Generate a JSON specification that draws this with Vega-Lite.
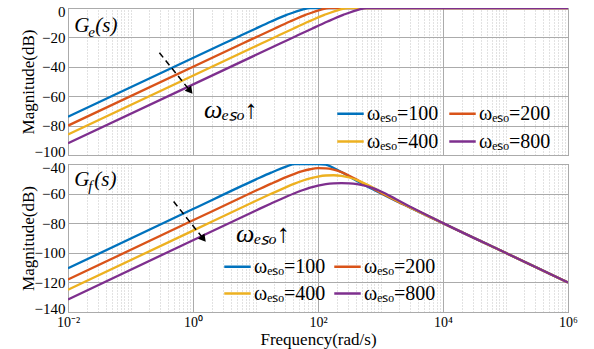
{
"$schema": "https://vega.github.io/schema/vega-lite/v6.json",
"background": "white",
"padding": {"left": 18, "top": 3, "right": 5, "bottom": 2},
"config": {
 "font": "Liberation Serif",
 "view": {"stroke": "#7a7a7a", "strokeWidth": 1},
 "axis": {"labelFont": "Liberation Serif", "titleFont": "Liberation Serif", "labelColor": "#000000", "titleColor": "#000000", "titleFontWeight": "normal", "domain": false, "ticks": false, "labelFlush": false, "gridColor": "#ababab", "gridOpacity": 1, "gridWidth": 1},
 "legend": {"labelFont": "Liberation Serif", "labelColor": "#000000"}
},
"datasets": {
 "ge": [
  {"s":"ωₑₛₒ=100","w":0.01,"db":-73.98},{"s":"ωₑₛₒ=100","w":3.1623,"db":-23.99},{"s":"ωₑₛₒ=100","w":5.6234,"db":-19.0},{"s":"ωₑₛₒ=100","w":10,"db":-14.06},{"s":"ωₑₛₒ=100","w":17.783,"db":-9.22},{"s":"ωₑₛₒ=100","w":31.623,"db":-4.7},{"s":"ωₑₛₒ=100","w":56.234,"db":-1.04},{"s":"ωₑₛₒ=100","w":74.99,"db":0.22},{"s":"ωₑₛₒ=100","w":100,"db":0.97},{"s":"ωₑₛₒ=100","w":177.83,"db":1.16},{"s":"ωₑₛₒ=100","w":316.23,"db":0.63},{"s":"ωₑₛₒ=100","w":562.34,"db":0.25},{"s":"ωₑₛₒ=100","w":1000,"db":0.08},{"s":"ωₑₛₒ=100","w":3162.3,"db":0.01},{"s":"ωₑₛₒ=100","w":1000000,"db":0},
  {"s":"ωₑₛₒ=200","w":0.01,"db":-80.0},{"s":"ωₑₛₒ=200","w":6.3246,"db":-23.99},{"s":"ωₑₛₒ=200","w":11.247,"db":-19.0},{"s":"ωₑₛₒ=200","w":20,"db":-14.06},{"s":"ωₑₛₒ=200","w":35.566,"db":-9.22},{"s":"ωₑₛₒ=200","w":63.246,"db":-4.7},{"s":"ωₑₛₒ=200","w":112.47,"db":-1.04},{"s":"ωₑₛₒ=200","w":149.97,"db":0.22},{"s":"ωₑₛₒ=200","w":200,"db":0.97},{"s":"ωₑₛₒ=200","w":355.66,"db":1.16},{"s":"ωₑₛₒ=200","w":632.46,"db":0.63},{"s":"ωₑₛₒ=200","w":1124.7,"db":0.25},{"s":"ωₑₛₒ=200","w":2000,"db":0.08},{"s":"ωₑₛₒ=200","w":6324.6,"db":0.01},{"s":"ωₑₛₒ=200","w":1000000,"db":0},
  {"s":"ωₑₛₒ=400","w":0.01,"db":-86.02},{"s":"ωₑₛₒ=400","w":12.649,"db":-23.99},{"s":"ωₑₛₒ=400","w":22.494,"db":-19.0},{"s":"ωₑₛₒ=400","w":40,"db":-14.06},{"s":"ωₑₛₒ=400","w":71.131,"db":-9.22},{"s":"ωₑₛₒ=400","w":126.49,"db":-4.7},{"s":"ωₑₛₒ=400","w":224.94,"db":-1.04},{"s":"ωₑₛₒ=400","w":299.95,"db":0.22},{"s":"ωₑₛₒ=400","w":400,"db":0.97},{"s":"ωₑₛₒ=400","w":711.31,"db":1.16},{"s":"ωₑₛₒ=400","w":1264.9,"db":0.63},{"s":"ωₑₛₒ=400","w":2249.4,"db":0.25},{"s":"ωₑₛₒ=400","w":4000,"db":0.08},{"s":"ωₑₛₒ=400","w":12649,"db":0.01},{"s":"ωₑₛₒ=400","w":1000000,"db":0},
  {"s":"ωₑₛₒ=800","w":0.01,"db":-92.04},{"s":"ωₑₛₒ=800","w":25.298,"db":-23.99},{"s":"ωₑₛₒ=800","w":44.987,"db":-19.0},{"s":"ωₑₛₒ=800","w":80,"db":-14.06},{"s":"ωₑₛₒ=800","w":142.26,"db":-9.22},{"s":"ωₑₛₒ=800","w":252.98,"db":-4.7},{"s":"ωₑₛₒ=800","w":449.87,"db":-1.04},{"s":"ωₑₛₒ=800","w":599.9,"db":0.22},{"s":"ωₑₛₒ=800","w":800,"db":0.97},{"s":"ωₑₛₒ=800","w":1422.6,"db":1.16},{"s":"ωₑₛₒ=800","w":2529.8,"db":0.63},{"s":"ωₑₛₒ=800","w":4498.7,"db":0.25},{"s":"ωₑₛₒ=800","w":8000,"db":0.08},{"s":"ωₑₛₒ=800","w":25298,"db":0.01},{"s":"ωₑₛₒ=800","w":1000000,"db":0}
 ],
 "gf": [
  {"s":"ωₑₛₒ=100","w":0.01,"db":-110.46},{"s":"ωₑₛₒ=100","w":1,"db":-70.46},{"s":"ωₑₛₒ=100","w":10,"db":-50.58},{"s":"ωₑₛₒ=100","w":17.783,"db":-45.85},{"s":"ωₑₛₒ=100","w":31.623,"db":-41.65},{"s":"ωₑₛₒ=100","w":42.17,"db":-40.0},{"s":"ωₑₛₒ=100","w":56.234,"db":-38.89},{"s":"ωₑₛₒ=100","w":74.989,"db":-38.51},{"s":"ωₑₛₒ=100","w":100,"db":-39.03},{"s":"ωₑₛₒ=100","w":133.35,"db":-40.49},{"s":"ωₑₛₒ=100","w":177.83,"db":-42.73},{"s":"ωₑₛₒ=100","w":237.14,"db":-45.48},{"s":"ωₑₛₒ=100","w":316.23,"db":-48.45},{"s":"ωₑₛₒ=100","w":421.7,"db":-51.43},{"s":"ωₑₛₒ=100","w":562.34,"db":-54.32},{"s":"ωₑₛₒ=100","w":749.89,"db":-57.09},{"s":"ωₑₛₒ=100","w":1000,"db":-59.76},{"s":"ωₑₛₒ=100","w":1778.3,"db":-64.92},{"s":"ωₑₛₒ=100","w":3162.3,"db":-69.97},{"s":"ωₑₛₒ=100","w":10000,"db":-80.0},{"s":"ωₑₛₒ=100","w":100000,"db":-100.0},{"s":"ωₑₛₒ=100","w":1000000,"db":-120.0},
  {"s":"ωₑₛₒ=200","w":0.01,"db":-118.06},{"s":"ωₑₛₒ=200","w":1,"db":-78.06},{"s":"ωₑₛₒ=200","w":10,"db":-58.12},{"s":"ωₑₛₒ=200","w":17.783,"db":-53.26},{"s":"ωₑₛₒ=200","w":31.623,"db":-48.67},{"s":"ωₑₛₒ=200","w":42.17,"db":-46.62},{"s":"ωₑₛₒ=200","w":56.234,"db":-44.86},{"s":"ωₑₛₒ=200","w":74.989,"db":-43.55},{"s":"ωₑₛₒ=200","w":100,"db":-42.84},{"s":"ωₑₛₒ=200","w":133.35,"db":-42.9},{"s":"ωₑₛₒ=200","w":177.83,"db":-43.8},{"s":"ωₑₛₒ=200","w":237.14,"db":-45.52},{"s":"ωₑₛₒ=200","w":316.23,"db":-47.9},{"s":"ωₑₛₒ=200","w":421.7,"db":-50.69},{"s":"ωₑₛₒ=200","w":562.34,"db":-53.64},{"s":"ωₑₛₒ=200","w":749.89,"db":-56.58},{"s":"ωₑₛₒ=200","w":1000,"db":-59.41},{"s":"ωₑₛₒ=200","w":1778.3,"db":-64.79},{"s":"ωₑₛₒ=200","w":3162.3,"db":-69.93},{"s":"ωₑₛₒ=200","w":10000,"db":-79.99},{"s":"ωₑₛₒ=200","w":100000,"db":-100.0},{"s":"ωₑₛₒ=200","w":1000000,"db":-120.0},
  {"s":"ωₑₛₒ=400","w":0.01,"db":-125.0},{"s":"ωₑₛₒ=400","w":1,"db":-85.0},{"s":"ωₑₛₒ=400","w":10,"db":-65.05},{"s":"ωₑₛₒ=400","w":17.783,"db":-60.15},{"s":"ωₑₛₒ=400","w":31.623,"db":-55.46},{"s":"ωₑₛₒ=400","w":42.17,"db":-53.29},{"s":"ωₑₛₒ=400","w":56.234,"db":-51.34},{"s":"ωₑₛₒ=400","w":74.989,"db":-49.71},{"s":"ωₑₛₒ=400","w":100,"db":-48.48},{"s":"ωₑₛₒ=400","w":133.35,"db":-47.76},{"s":"ωₑₛₒ=400","w":177.83,"db":-47.59},{"s":"ωₑₛₒ=400","w":237.14,"db":-48.03},{"s":"ωₑₛₒ=400","w":316.23,"db":-49.12},{"s":"ωₑₛₒ=400","w":421.7,"db":-50.86},{"s":"ωₑₛₒ=400","w":562.34,"db":-53.18},{"s":"ωₑₛₒ=400","w":749.89,"db":-55.88},{"s":"ωₑₛₒ=400","w":1000,"db":-58.76},{"s":"ωₑₛₒ=400","w":1778.3,"db":-64.45},{"s":"ωₑₛₒ=400","w":3162.3,"db":-69.8},{"s":"ωₑₛₒ=400","w":10000,"db":-79.98},{"s":"ωₑₛₒ=400","w":100000,"db":-100.0},{"s":"ωₑₛₒ=400","w":1000000,"db":-120.0},
  {"s":"ωₑₛₒ=800","w":0.01,"db":-131.51},{"s":"ωₑₛₒ=800","w":1,"db":-91.51},{"s":"ωₑₛₒ=800","w":10,"db":-71.56},{"s":"ωₑₛₒ=800","w":17.783,"db":-66.65},{"s":"ωₑₛₒ=800","w":31.623,"db":-61.94},{"s":"ωₑₛₒ=800","w":42.17,"db":-59.75},{"s":"ωₑₛₒ=800","w":56.234,"db":-57.75},{"s":"ωₑₛₒ=800","w":74.989,"db":-56.02},{"s":"ωₑₛₒ=800","w":100,"db":-54.64},{"s":"ωₑₛₒ=800","w":133.35,"db":-53.66},{"s":"ωₑₛₒ=800","w":177.83,"db":-53.08},{"s":"ωₑₛₒ=800","w":237.14,"db":-52.87},{"s":"ωₑₛₒ=800","w":316.23,"db":-53.04},{"s":"ωₑₛₒ=800","w":421.7,"db":-53.62},{"s":"ωₑₛₒ=800","w":562.34,"db":-54.69},{"s":"ωₑₛₒ=800","w":749.89,"db":-56.3},{"s":"ωₑₛₒ=800","w":1000,"db":-58.44},{"s":"ωₑₛₒ=800","w":1778.3,"db":-63.8},{"s":"ωₑₛₒ=800","w":3162.3,"db":-69.44},{"s":"ωₑₛₒ=800","w":10000,"db":-79.93},{"s":"ωₑₛₒ=800","w":100000,"db":-100.0},{"s":"ωₑₛₒ=800","w":1000000,"db":-120.0}
 ],
 "one": [{}]
},
"spacing": 9,
"bounds": "flush",
"resolve": {"scale": {"color": "independent"}, "legend": {"color": "independent"}},
"vconcat": [
 {
  "width": 500, "height": 147,
  "resolve": {"axis": {"x": "independent", "y": "independent"}},
  "layer": [
   {
    "data": {"name": "ge"},
    "mark": {"type": "line", "strokeOpacity": 0},
    "encoding": {
     "x": {"field": "w", "type": "quantitative", "scale": {"type": "log", "domain": [0.01, 1000000], "nice": false},
       "axis": {"orient": "top", "values": [0.02,0.03,0.04,0.05,0.06,0.07,0.08,0.09,0.1,0.2,0.3,0.4,0.5,0.6,0.7,0.8,0.9,2,3,4,5,6,7,8,9,10,20,30,40,50,60,70,80,90,200,300,400,500,600,700,800,900,1000,2000,3000,4000,5000,6000,7000,8000,9000,20000,30000,40000,50000,60000,70000,80000,90000,100000,200000,300000,400000,500000,600000,700000,800000,900000], "labels": false, "title": null, "grid": true, "gridDash": [1, 2], "gridColor": "#c4c4c4"}},
     "y": {"field": "db", "type": "quantitative", "scale": {"domain": [-100, 0], "nice": false, "zero": false, "clamp": true},
       "axis": {"orient": "left", "values": [-100, -80, -60, -40, -20, 0], "format": "d", "labelFontSize": 15, "labelPadding": 3, "labelFlush": true, "labelFlushOffset": 4, "title": "Magnitude(dB)", "titleFontSize": 17, "titlePadding": -3, "grid": true}},
     "detail": {"field": "s"}
    }
   },
   {
    "data": {"name": "ge"},
    "mark": {"type": "line", "strokeWidth": 2.3, "interpolate": "monotone", "clip": true},
    "encoding": {
     "x": {"field": "w", "type": "quantitative", "axis": {"orient": "bottom", "values": [0.01, 1, 100, 10000, 1000000], "labels": false, "title": null, "grid": true}},
     "y": {"field": "db", "type": "quantitative", "axis": null},
     "color": {"field": "s", "type": "nominal", "scale": {"domain": ["ωₑₛₒ=100", "ωₑₛₒ=200", "ωₑₛₒ=400", "ωₑₛₒ=800"], "range": ["#0072BD", "#D95319", "#EDB120", "#7E2F8E"]},
       "legend": {"orient": "none", "legendX": 268, "legendY": 91, "direction": "horizontal", "columns": 2, "title": null, "symbolType": "stroke", "symbolSize": 700, "symbolStrokeWidth": 2.5, "labelFontSize": 20, "labelOffset": 2, "columnPadding": 5, "rowPadding": 3, "padding": 0}}
    }
   },
   {
    "data": {"name": "one"},
    "mark": {"type": "rule", "color": "#000000", "strokeWidth": 1.5, "strokeDash": [6, 4]},
    "encoding": {
     "x": {"datum": 0.29, "type": "quantitative", "axis": null}, "y": {"datum": -30.4, "type": "quantitative", "axis": null},
     "x2": {"datum": 0.902}, "y2": {"datum": -56.5}
    }
   },
   {
    "data": {"name": "one"},
    "mark": {"type": "point", "shape": "triangle-up", "filled": true, "color": "#000000", "opacity": 1, "size": 70, "angle": 141},
    "encoding": {"x": {"datum": 0.902, "type": "quantitative", "axis": null}, "y": {"datum": -56.5, "type": "quantitative", "axis": null}}
   },
   {
    "data": {"name": "one"},
    "mark": {"type": "text", "text": "ωₑₛₒ↑", "font": "Liberation Serif", "fontStyle": "italic", "fontSize": 26, "align": "left", "baseline": "alphabetic", "color": "#000000"},
    "encoding": {"x": {"datum": 1.5, "type": "quantitative", "axis": null}, "y": {"datum": -74.6, "type": "quantitative", "axis": null}}
   },
   {
    "data": {"name": "one"},
    "mark": {"type": "text", "text": "G", "font": "Liberation Serif", "fontStyle": "italic", "fontSize": 21, "align": "left", "baseline": "alphabetic", "color": "#000000"},
    "encoding": {"x": {"datum": 0.0126, "type": "quantitative", "axis": null}, "y": {"datum": -16.6, "type": "quantitative", "axis": null}}
   },
   {
    "data": {"name": "one"},
    "mark": {"type": "text", "text": "e", "font": "Liberation Serif", "fontStyle": "italic", "fontSize": 15, "align": "left", "baseline": "alphabetic", "dx": 14, "dy": 5, "color": "#000000"},
    "encoding": {"x": {"datum": 0.0126, "type": "quantitative", "axis": null}, "y": {"datum": -16.6, "type": "quantitative", "axis": null}}
   },
   {
    "data": {"name": "one"},
    "mark": {"type": "text", "text": "(s)", "font": "Liberation Serif", "fontStyle": "italic", "fontSize": 21, "align": "left", "baseline": "alphabetic", "dx": 21, "color": "#000000"},
    "encoding": {"x": {"datum": 0.0126, "type": "quantitative", "axis": null}, "y": {"datum": -16.6, "type": "quantitative", "axis": null}}
   }
  ]
 },
 {
  "width": 500, "height": 148,
  "resolve": {"axis": {"x": "independent", "y": "independent"}},
  "layer": [
   {
    "data": {"name": "gf"},
    "mark": {"type": "line", "strokeOpacity": 0},
    "encoding": {
     "x": {"field": "w", "type": "quantitative", "scale": {"type": "log", "domain": [0.01, 1000000], "nice": false},
       "axis": {"orient": "top", "values": [0.02,0.03,0.04,0.05,0.06,0.07,0.08,0.09,0.1,0.2,0.3,0.4,0.5,0.6,0.7,0.8,0.9,2,3,4,5,6,7,8,9,10,20,30,40,50,60,70,80,90,200,300,400,500,600,700,800,900,1000,2000,3000,4000,5000,6000,7000,8000,9000,20000,30000,40000,50000,60000,70000,80000,90000,100000,200000,300000,400000,500000,600000,700000,800000,900000], "labels": false, "title": null, "grid": true, "gridDash": [1, 2], "gridColor": "#c4c4c4"}},
     "y": {"field": "db", "type": "quantitative", "scale": {"domain": [-140, -40], "nice": false, "zero": false, "clamp": true},
       "axis": {"orient": "left", "values": [-140, -120, -100, -80, -60, -40], "format": "d", "labelFontSize": 15, "labelPadding": 3, "labelFlush": true, "labelFlushOffset": 4, "title": "Magnitude(dB)", "titleFontSize": 17, "titlePadding": -3, "grid": true}},
     "detail": {"field": "s"}
    }
   },
   {
    "data": {"name": "gf"},
    "mark": {"type": "line", "strokeWidth": 2.3, "interpolate": "monotone", "clip": true},
    "encoding": {
     "x": {"field": "w", "type": "quantitative", "axis": {"orient": "bottom", "values": [0.01, 1, 100, 10000, 1000000], "labelExpr": "datum.value < 0.1 ? '10⁻²' : datum.value < 10 ? '10⁰' : datum.value < 1000 ? '10²' : datum.value < 100000 ? '10⁴' : '10⁶'", "labelFontSize": 14, "labelPadding": 3, "title": "Frequency(rad/s)", "titleFontSize": 17, "titlePadding": 2, "grid": true}},
     "y": {"field": "db", "type": "quantitative", "axis": null},
     "color": {"field": "s", "type": "nominal", "scale": {"domain": ["ωₑₛₒ=100", "ωₑₛₒ=200", "ωₑₛₒ=400", "ωₑₛₒ=800"], "range": ["#0072BD", "#D95319", "#EDB120", "#7E2F8E"]},
       "legend": {"orient": "none", "legendX": 155, "legendY": 88, "direction": "horizontal", "columns": 2, "title": null, "symbolType": "stroke", "symbolSize": 700, "symbolStrokeWidth": 2.5, "labelFontSize": 20, "labelOffset": 2, "columnPadding": 3, "rowPadding": 2, "padding": 0}}
    }
   },
   {
    "data": {"name": "one"},
    "mark": {"type": "rule", "color": "#000000", "strokeWidth": 1.5, "strokeDash": [6, 4]},
    "encoding": {
     "x": {"datum": 0.49, "type": "quantitative", "axis": null}, "y": {"datum": -65.4, "type": "quantitative", "axis": null},
     "x2": {"datum": 1.47}, "y2": {"datum": -90.6}
    }
   },
   {
    "data": {"name": "one"},
    "mark": {"type": "point", "shape": "triangle-up", "filled": true, "color": "#000000", "opacity": 1, "size": 70, "angle": 141},
    "encoding": {"x": {"datum": 1.47, "type": "quantitative", "axis": null}, "y": {"datum": -90.6, "type": "quantitative", "axis": null}}
   },
   {
    "data": {"name": "one"},
    "mark": {"type": "text", "text": "ωₑₛₒ↑", "font": "Liberation Serif", "fontStyle": "italic", "fontSize": 26, "align": "left", "baseline": "alphabetic", "color": "#000000"},
    "encoding": {"x": {"datum": 4.88, "type": "quantitative", "axis": null}, "y": {"datum": -92.7, "type": "quantitative", "axis": null}}
   },
   {
    "data": {"name": "one"},
    "mark": {"type": "text", "text": "G", "font": "Liberation Serif", "fontStyle": "italic", "fontSize": 21, "align": "left", "baseline": "alphabetic", "color": "#000000"},
    "encoding": {"x": {"datum": 0.0126, "type": "quantitative", "axis": null}, "y": {"datum": -54.6, "type": "quantitative", "axis": null}}
   },
   {
    "data": {"name": "one"},
    "mark": {"type": "text", "text": "f", "font": "Liberation Serif", "fontStyle": "italic", "fontSize": 15, "align": "left", "baseline": "alphabetic", "dx": 14, "dy": 5, "color": "#000000"},
    "encoding": {"x": {"datum": 0.0126, "type": "quantitative", "axis": null}, "y": {"datum": -54.6, "type": "quantitative", "axis": null}}
   },
   {
    "data": {"name": "one"},
    "mark": {"type": "text", "text": "(s)", "font": "Liberation Serif", "fontStyle": "italic", "fontSize": 21, "align": "left", "baseline": "alphabetic", "dx": 20, "color": "#000000"},
    "encoding": {"x": {"datum": 0.0126, "type": "quantitative", "axis": null}, "y": {"datum": -54.6, "type": "quantitative", "axis": null}}
   }
  ]
 }
]
}
